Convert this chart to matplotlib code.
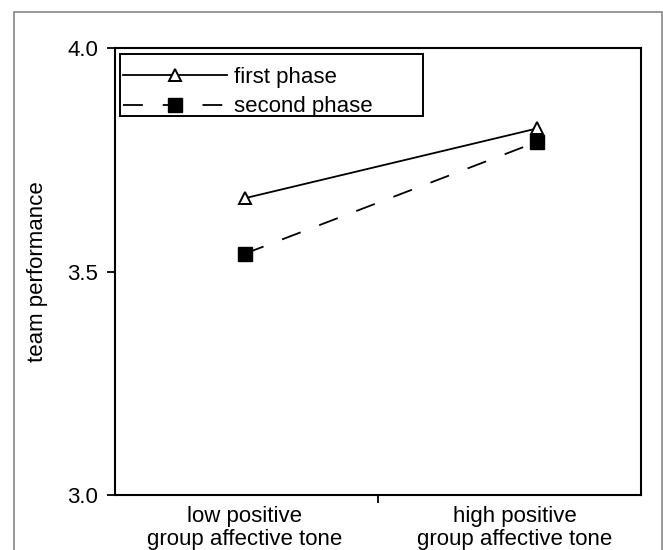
import matplotlib
matplotlib.use("Agg")
import matplotlib.pyplot as plt
from matplotlib.patches import Rectangle

categories = ["low positive\ngroup affective tone", "high positive\ngroup affective tone"]
x_points = [1.0, 2.0]
first_phase = [3.664, 3.82]
second_phase = [3.54, 3.79]
y_ticks = [3.0, 3.5, 4.0]
y_tick_labels = ["3.0", "3.5", "4.0"]

plt.rcParams['font.family'] = ['Liberation Sans', 'DejaVu Sans']
FS = 16

fig = plt.figure(figsize=(6.63, 5.5), dpi=100)
fig.patches.append(Rectangle((14/663, -0.05), (662-14)/663, 1 - 12/550 + 0.05,
                             transform=fig.transFigure, fill=False,
                             edgecolor='#888888', linewidth=1.2))

ax = fig.add_axes([115/663, 1 - 495/550, (641-115)/663, (495-48)/550])

ax.plot(x_points, first_phase, color='black', linewidth=1.3, marker='^',
        markersize=8, markerfacecolor='white', markeredgecolor='black',
        markeredgewidth=1.4, label='first phase', zorder=3)
ax.plot(x_points, second_phase, color='black', linewidth=1.3, marker='s',
        markersize=9.5, markerfacecolor='black', markeredgecolor='black',
        dashes=(11, 11), label='second phase', zorder=3)

ax.set_xlim(0.555, 2.356)
ax.set_ylim(3.0, 4.0)
ax.set_yticks(y_ticks)
ax.set_yticklabels(y_tick_labels, fontsize=FS)
ax.tick_params(axis='y', direction='out', length=6, width=1.3, pad=6)

# middle tick between categories, labels under the categories
ax.set_xticks([1.455])
ax.set_xticklabels([""])
ax.tick_params(axis='x', which='major', direction='out', length=6, width=1.3)
ax.set_xticks([1.0, 1.925], minor=True)
ax.set_xticklabels(categories, minor=True, fontsize=FS, linespacing=1.1)
ax.tick_params(axis='x', which='minor', length=0, pad=8)

for s in ax.spines.values():
    s.set_linewidth(1.5)

ax.set_ylabel("team performance", fontsize=FS, labelpad=14)

# legend box
ax.add_patch(Rectangle(((120-115)/526, (495-116)/447), (423-120)/526, (116-54)/447,
                       transform=ax.transAxes, fill=True, facecolor='white',
                       edgecolor='black', linewidth=1.4, zorder=4))
leg = ax.legend(loc='upper left', bbox_to_anchor=(8/526, (495-67)/447), fontsize=FS,
                frameon=False, handlelength=4.7, handletextpad=0.3, borderpad=0.0,
                labelspacing=0.38, borderaxespad=0.0)
leg.set_zorder(5)

fig.savefig("out.png", dpi=100)
